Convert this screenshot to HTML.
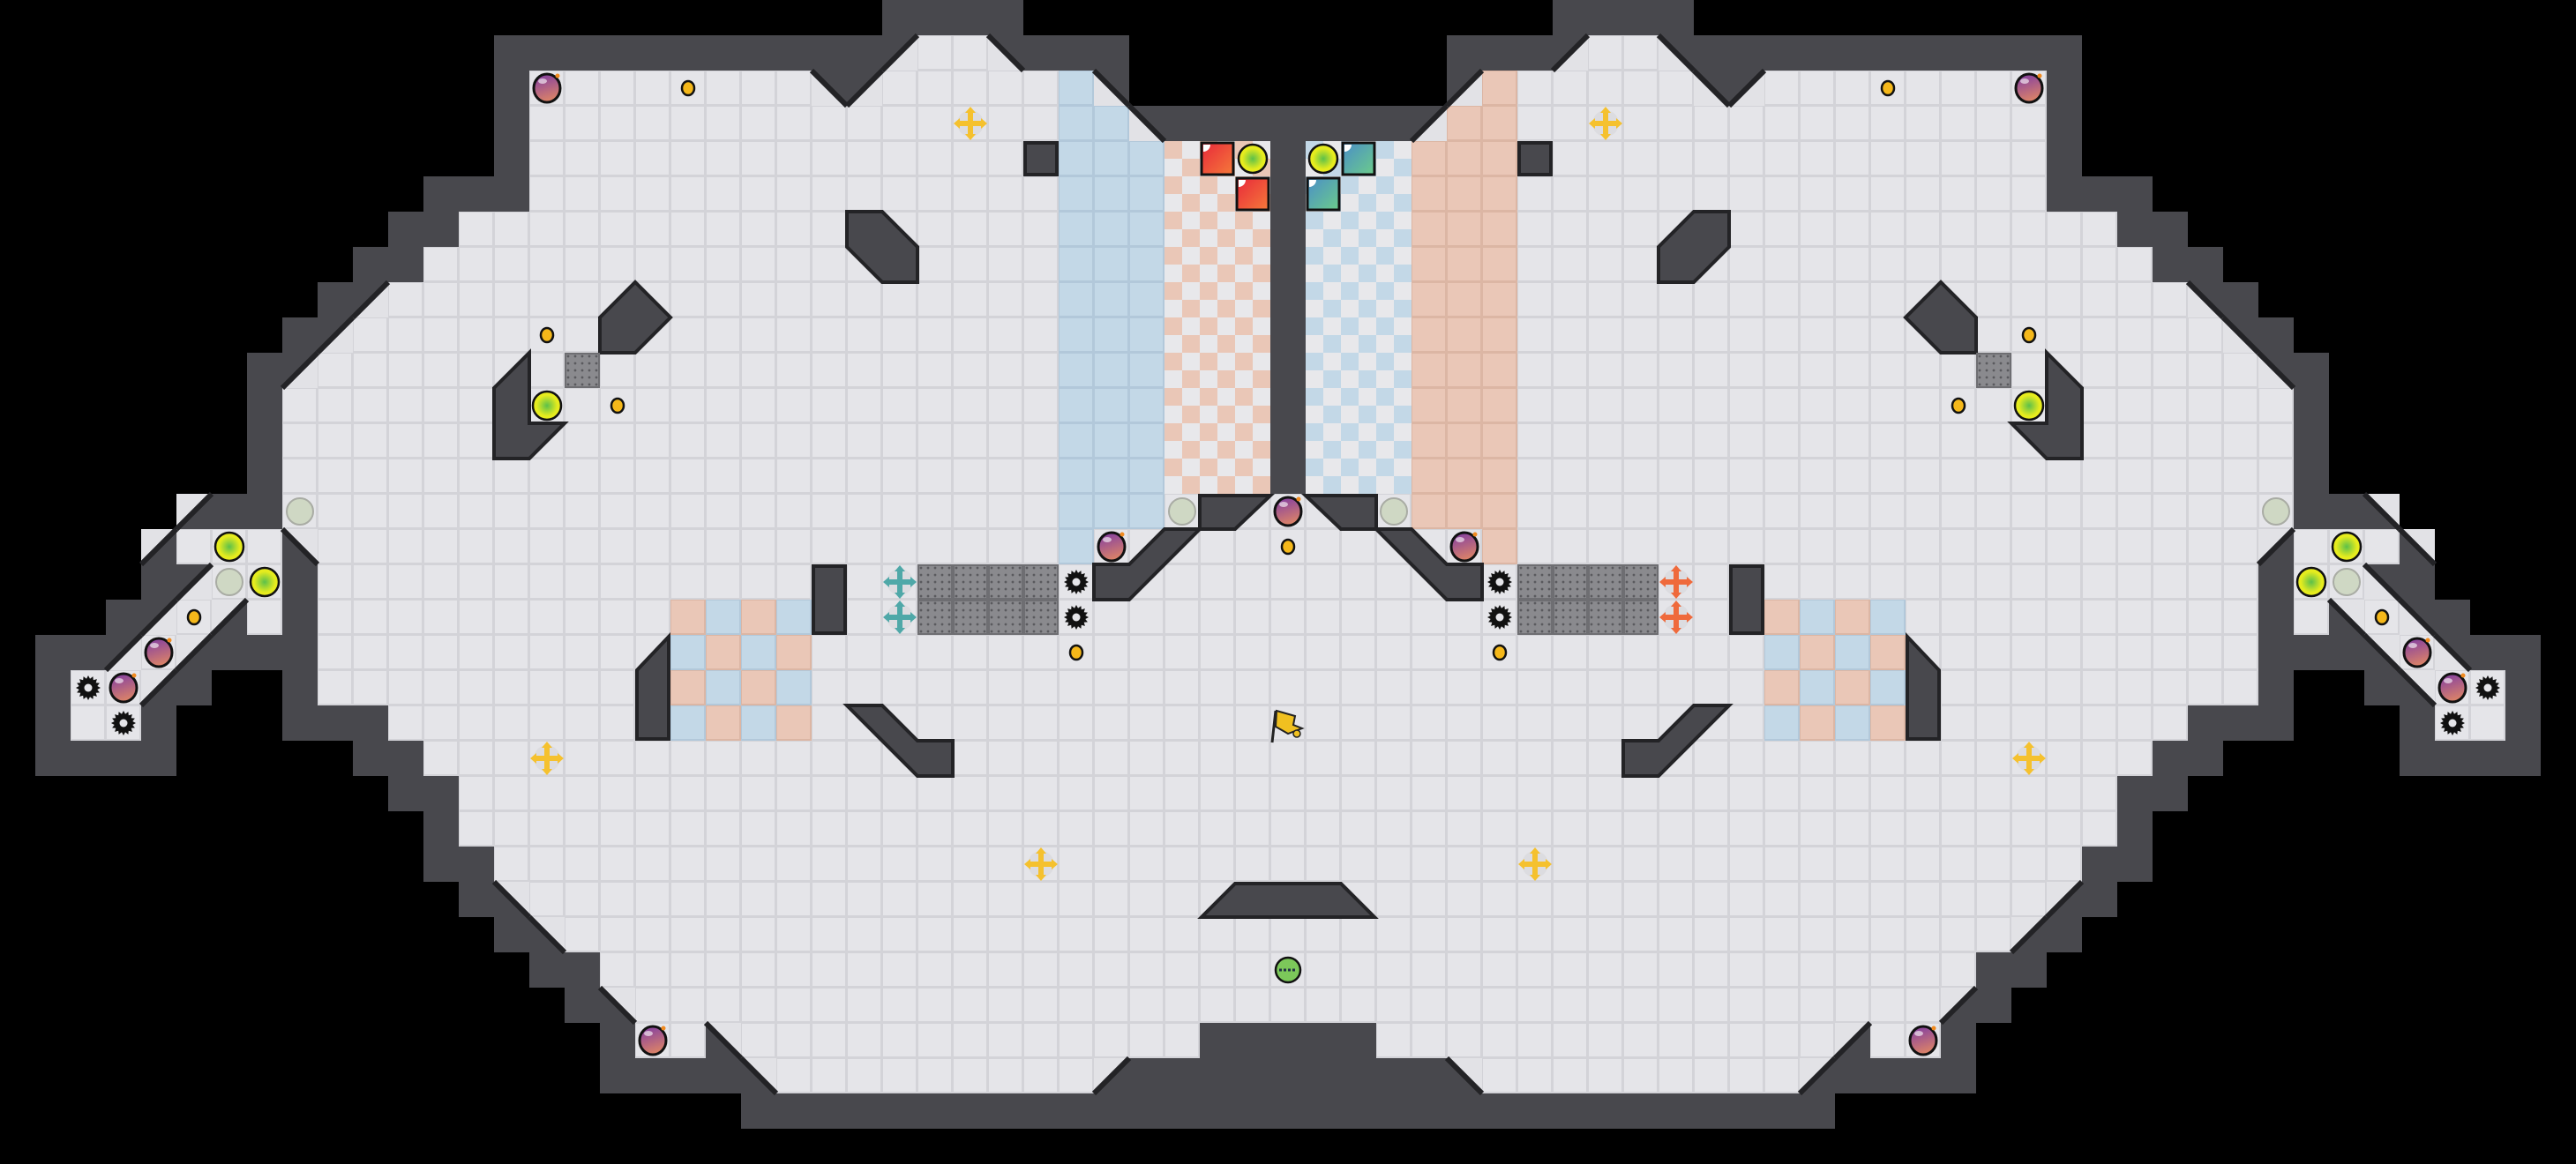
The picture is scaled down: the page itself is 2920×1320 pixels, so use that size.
<!DOCTYPE html>
<html><head><meta charset="utf-8">
<style>
html,body{margin:0;padding:0;background:#000;}
body{width:2920px;height:1320px;overflow:hidden;}
svg{display:block;}
</style></head>
<body>
<svg id="s" xmlns="http://www.w3.org/2000/svg" width="2920" height="1320" viewBox="0 0 2920 1320">
<defs>
<radialGradient id="gy" cx="50%" cy="50%" r="50%"><stop offset="0" stop-color="#5cc04a"/><stop offset="0.75" stop-color="#e6ec1e"/></radialGradient>
<linearGradient id="gb" x1="0" y1="0" x2="0.3" y2="1"><stop offset="0" stop-color="#7d3aa6"/><stop offset="1" stop-color="#d8806a"/></linearGradient>
<linearGradient id="gr" x1="0" y1="0" x2="1" y2="1"><stop offset="0" stop-color="#e8283a"/><stop offset="1" stop-color="#f57a3a"/></linearGradient>
<linearGradient id="gt" x1="0" y1="0" x2="1" y2="1"><stop offset="0" stop-color="#4a8ec8"/><stop offset="1" stop-color="#6ccc8a"/></linearGradient>
<pattern id="grate" width="8" height="8" patternUnits="userSpaceOnUse"><rect width="8" height="8" fill="#8a8a8e"/><circle cx="4" cy="4" r="1.4" fill="#5a5a5e"/></pattern>
</defs>
<rect width="2920" height="1320" fill="#000"/>
<g id="g"></g>
</svg>
<script>
(function(){
var NS="http://www.w3.org/2000/svg",g=document.getElementById('g');
function el(t,a){var e=document.createElementNS(NS,t);for(var k in a)e.setAttribute(k,a[k]);g.appendChild(e);return e;}
var W=73,H=33,T=40,F=[];
for(var r=0;r<H;r++){F[r]=[];for(var c=0;c<W;c++)F[r][c]=0;}
function S(r,a,b){for(var c=a;c<=b;c++){F[r][c]=1;F[r][72-c]=1;}}
S(1,26,27);
S(2,15,22);S(2,25,30);
S(3,15,31);
S(4,15,35);S(5,15,35);S(6,13,35);S(7,12,35);S(8,11,35);S(9,10,35);S(10,9,35);
S(11,8,35);S(12,8,35);S(13,8,35);
S(14,8,36);
S(15,5,7);S(15,9,36);
S(16,6,7);S(16,9,36);
S(17,5,5);S(17,7,7);S(17,9,36);
S(18,4,4);S(18,9,36);
S(19,2,3);S(19,9,36);
S(20,2,3);S(20,11,36);
S(21,12,36);S(22,13,36);S(23,13,36);S(24,14,36);S(25,15,36);S(26,16,36);S(27,17,36);S(28,18,36);
S(29,18,19);S(29,21,33);
S(30,22,30);
var tris=[[1,25,'LR'],[1,28,'LL'],[2,23,'LL'],[2,24,'LR'],[2,31,'LL'],[3,32,'LL'],[8,10,'LR'],[9,9,'LR'],[10,8,'LR'],
[14,5,'UL'],[15,4,'UL'],[15,8,'UR'],[16,5,'LR'],[17,4,'LR'],[17,6,'UL'],[18,3,'LR'],[18,5,'UL'],[19,4,'UL'],
[25,14,'UR'],[26,15,'UR'],[28,17,'UR'],[29,20,'UR'],[30,21,'UR'],[30,31,'UL']];
var mt={UL:'UR',UR:'UL',LL:'LR',LR:'LL'};
var all=[];tris.forEach(function(t){all.push(t);all.push([t[0],72-t[1],mt[t[2]]]);});
var none={},force={};
function N(r,c){none[r+'_'+c]=1;none[r+'_'+(72-c)]=1;}
function FW(r,a,b){for(var c=a;c<=b;c++){force[r+'_'+c]=1;force[r+'_'+(72-c)]=1;}}
N(2,32);N(13,4);N(13,5);N(13,6);N(14,4);N(15,3);N(16,3);
FW(29,34,36);FW(30,31,36);FW(31,21,36);
// walls
for(var r=0;r<H;r++)for(var c=0;c<W;c++){
 if(F[r][c])continue;var key=r+'_'+c;if(none[key])continue;var w=force[key]?1:0;
 for(var dr=-1;dr<=1;dr++)for(var dc=-1;dc<=1;dc++){var rr=r+dr,cc=c+dc;if(rr>=0&&rr<H&&cc>=0&&cc<W&&F[rr][cc])w=1;}
 if(w){el('rect',{x:c*T,y:r*T,width:T,height:T,fill:'#48484d'});}
}
function color(r,c){
 if(c==30&&r>=2&&r<=15)return 'B';if(c==31&&r>=3&&r<=14)return 'B';if(c==32&&r>=4&&r<=14)return 'B';
 if(c==42&&r>=2&&r<=15)return 'R';if(c==41&&r>=3&&r<=14)return 'R';if(c==40&&r>=4&&r<=14)return 'R';
 if(c>=33&&c<=35&&r>=4&&r<=13)return 'CR';
 if(c>=37&&c<=39&&r>=4&&r<=13)return 'CB';
 if(c>=19&&c<=22&&r>=17&&r<=20)return ((r+c)%2==0)?'R':'B';
 if(c>=50&&c<=53&&r>=17&&r<=20)return ((r+c)%2==1)?'R':'B';
 return 'N';
}
var pal={N:['#d3d3d8','#e5e5e9'],B:['#b2c8da','#c3d8e7'],R:['#dcb6a4','#eac7b7']};
for(var r=0;r<H;r++)for(var c=0;c<W;c++){
 if(!F[r][c])continue;var x=c*T,y=r*T,k=color(r,c);
 if(k=='CR'||k=='CB'){
  var col=k=='CR'?'#eac7b7':'#c3d8e7';
  el('rect',{x:x,y:y,width:T,height:T,fill:'#e8e8eb'});
  for(var i=0;i<2;i++)for(var j=0;j<2;j++){if(((x/20+i)+(y/20+j))%2==0)el('rect',{x:x+i*20,y:y+j*20,width:20,height:20,fill:col});}
  continue;
 }
 el('rect',{x:x,y:y,width:T,height:T,fill:pal[k][0]});
 el('rect',{x:x+1,y:y+1,width:T-3,height:T-3,fill:pal[k][1]});
}
all.forEach(function(t){
 var x=t[1]*T,y=t[0]*T,p,l;
 if(t[2]=='UL'){p=[x,y,x+T,y,x,y+T];l=[x+T,y,x,y+T];}
 if(t[2]=='UR'){p=[x,y,x+T,y,x+T,y+T];l=[x,y,x+T,y+T];}
 if(t[2]=='LL'){p=[x,y,x,y+T,x+T,y+T];l=[x,y,x+T,y+T];}
 if(t[2]=='LR'){p=[x+T,y,x+T,y+T,x,y+T];l=[x+T,y,x,y+T];}
 el('polygon',{points:p.join(' '),fill:'#e2e2e6'});
 el('line',{x1:l[0],y1:l[1],x2:l[2],y2:l[3],stroke:'#232326','stroke-width':6});
});
function poly(pts){
 el('polygon',{points:pts.join(' '),fill:'#48484d',stroke:'#232326','stroke-width':4,'stroke-linejoin':'miter'});
 var m=[];for(var i=0;i<pts.length;i+=2){m.push(2920-pts[i]);m.push(pts[i+1]);}
 el('polygon',{points:m.join(' '),fill:'#48484d',stroke:'#232326','stroke-width':4,'stroke-linejoin':'miter'});
}
poly([680,360,720,320,760,360,720,400,680,400]);
poly([560,440,600,400,600,480,640,480,600,520,560,520]);
poly([960,240,1000,240,1040,280,1040,320,1000,320,960,280]);
poly([1162,162,1198,162,1198,198,1162,198]);
poly([922,642,958,642,958,718,922,718]);
poly([722,760,758,722,758,838,722,838]);
poly([960,800,1000,800,1040,840,1080,840,1080,880,1040,880]);
poly([1360,562,1440,562,1400,600,1360,600]);
poly([1320,600,1360,600,1280,680,1240,680,1240,640,1280,640]);
el('polygon',{points:'1400,1002 1520,1002 1558,1040 1362,1040',fill:'#48484d',stroke:'#232326','stroke-width':4});
function grate(x,y,w,h){[x,2920-x-w].forEach(function(xx){
 for(var i=0;i<w;i+=40)for(var j=0;j<h;j+=40){el('rect',{x:xx+i,y:y+j,width:40,height:40,fill:'#6e6e72'});el('rect',{x:xx+i+2,y:y+j+2,width:36,height:36,fill:'url(#grate)'});}
});}
grate(640,400,40,40);grate(1040,640,160,80);
function M(f,x,y,a){f(x,y,a);f(2920-x,y,a);}
function bomb(x,y){el('ellipse',{cx:x,cy:y,rx:15,ry:16,fill:'url(#gb)',stroke:'#111','stroke-width':3});el('ellipse',{cx:x-5,cy:y-8,rx:5,ry:3,fill:'#fff',opacity:0.6});el('circle',{cx:x+12,cy:y-14,r:2.5,fill:'#f08a20'});}
function ball(x,y){el('circle',{cx:x,cy:y,r:16,fill:'url(#gy)',stroke:'#111','stroke-width':2.5});}
function pale(x,y){el('circle',{cx:x,cy:y,r:15,fill:'#cfd8c4',stroke:'#a9aca4','stroke-width':2});}
function dot(x,y){el('ellipse',{cx:x,cy:y,rx:7,ry:8,fill:'#f5b81a',stroke:'#111','stroke-width':2.5});}
function gear(x,y){var p=[];for(var i=0;i<32;i++){var a=i*Math.PI/16,rr=(i%2)?10.5:14;p.push((x+rr*Math.cos(a)).toFixed(1)+','+(y+rr*Math.sin(a)).toFixed(1));}
 el('polygon',{points:p.join(' '),fill:'#111'});el('circle',{cx:x,cy:y,r:4.5,fill:'#e5e5e9'});}
function cross(x,y,col){el('circle',{cx:x,cy:y,r:15,fill:'#d8d8dc',opacity:0.7});
 el('rect',{x:x-3,y:y-13,width:6,height:26,fill:col});el('rect',{x:x-13,y:y-3,width:26,height:6,fill:col});
 el('polygon',{points:(x-6)+','+(y-12)+' '+(x+6)+','+(y-12)+' '+x+','+(y-19),fill:col});
 el('polygon',{points:(x-6)+','+(y+12)+' '+(x+6)+','+(y+12)+' '+x+','+(y+19),fill:col});
 el('polygon',{points:(x-12)+','+(y-6)+' '+(x-12)+','+(y+6)+' '+(x-19)+','+y,fill:col});
 el('polygon',{points:(x+12)+','+(y-6)+' '+(x+12)+','+(y+6)+' '+(x+19)+','+y,fill:col});}
function sq(x,y,f){el('rect',{x:x-18,y:y-18,width:36,height:36,fill:f,stroke:'#111','stroke-width':3});el('path',{d:'M'+(x-16)+' '+(y-16)+' h8 a8 8 0 0 1 -8 8 z',fill:'#fff'});}
M(bomb,620,100);M(dot,780,100);M(cross,1100,140,'#f5c12e');
M(dot,620,380);M(ball,620,460);M(dot,700,460);M(pale,340,580);
M(bomb,1260,620);M(pale,1340,580);
M(gear,1220,660);M(gear,1220,700);M(dot,1220,740);
M(cross,620,860,'#f5c12e');M(cross,1180,980,'#f5c12e');
M(bomb,740,1180);
M(ball,260,620);M(pale,260,660);M(ball,300,660);M(dot,220,700);
M(bomb,180,740);M(bomb,140,780);M(gear,100,780);M(gear,140,820);
cross(1020,660,'#4fa8a8');cross(1020,700,'#4fa8a8');cross(1900,660,'#ef6a3c');cross(1900,700,'#ef6a3c');
bomb(1460,580);dot(1460,620);
sq(1380,180,'url(#gr)');sq(1420,220,'url(#gr)');ball(1420,180);ball(1500,180);sq(1540,180,'url(#gt)');sq(1500,220,'url(#gt)');
el('line',{x1:1446,y1:806,x2:1442,y2:842,stroke:'#222','stroke-width':3});
el('polygon',{points:'1447,806 1468,812 1466,822 1476,826 1460,832 1446,824',fill:'#f0c020',stroke:'#222','stroke-width':2});
el('circle',{cx:1470,cy:832,r:4,fill:'#f0c020',stroke:'#222','stroke-width':1.5});
el('circle',{cx:1460,cy:1100,r:14,fill:'#7cc85a',stroke:'#111','stroke-width':2.5});
el('line',{x1:1450,y1:1100,x2:1470,y2:1100,stroke:'#234','stroke-width':3,'stroke-dasharray':'3 2'});
})();
</script>
</body></html>
